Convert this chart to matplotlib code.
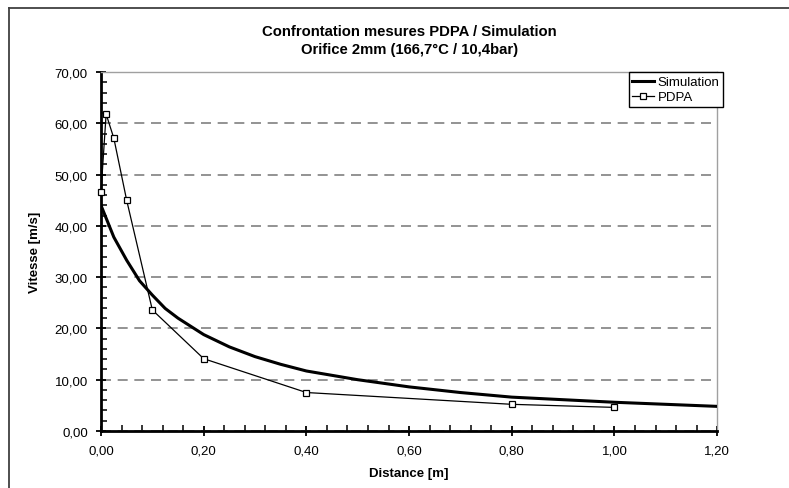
import matplotlib.pyplot as plt
from matplotlib.lines import Line2D
from matplotlib.ticker import MultipleLocator, FuncFormatter

# Simulation curve
sim_x = [0.0, 0.025, 0.05, 0.075, 0.1, 0.125, 0.15, 0.2, 0.25, 0.3, 0.35, 0.4,
         0.5, 0.6, 0.7, 0.8, 0.9, 1.0, 1.1, 1.2]
sim_y = [44.0, 37.8, 33.3, 29.3, 26.5, 23.9, 22.0, 18.8, 16.4, 14.5, 13.0, 11.7,
         10.0, 8.6, 7.5, 6.6, 6.1, 5.6, 5.2, 4.8]

# PDPA measurements
pdpa_x = [0.0, 0.01, 0.025, 0.05, 0.1, 0.2, 0.4, 0.8, 1.0]
pdpa_y = [46.6, 61.8, 57.1, 45.0, 23.6, 14.1, 7.5, 5.2, 4.6]

plt.rcParams['font.family'] = ['Liberation Sans', 'DejaVu Sans']

fig = plt.figure(figsize=(7.89, 4.89), dpi=100)
ax = fig.add_axes([0.128, 0.1166, 0.781, 0.734])

# outer chart frame: only left and top edges are visible in the reference
fx, fy = 8.5 / 789, 1 - 8.5 / 489
fig.lines.append(Line2D([fx, fx], [0, fy], transform=fig.transFigure,
                        color='#404040', linewidth=1.3))
fig.lines.append(Line2D([fx, 1], [fy, fy], transform=fig.transFigure,
                        color='#404040', linewidth=1.3))

ax.plot(sim_x, sim_y, color='black', linewidth=2.2, label='Simulation', zorder=3)
ax.plot(pdpa_x, pdpa_y, color='black', linewidth=0.9, marker='s', markersize=4.5,
        markerfacecolor='white', markeredgecolor='black', markeredgewidth=0.9,
        label='PDPA', zorder=4, clip_on=False)

ax.set_xlim(0, 1.2)
ax.set_ylim(0, 70)
ax.xaxis.set_major_locator(MultipleLocator(0.2))
ax.xaxis.set_minor_locator(MultipleLocator(0.04))
ax.yaxis.set_major_locator(MultipleLocator(10))
ax.yaxis.set_minor_locator(MultipleLocator(2))
comma = FuncFormatter(lambda v, p: f'{v:.2f}'.replace('.', ','))
ax.xaxis.set_major_formatter(comma)
ax.yaxis.set_major_formatter(comma)

ax.tick_params(which='major', direction='inout', length=7, width=1.3, labelsize=9.5, pad=6)
ax.tick_params(which='minor', direction='in', length=4, width=1.1)

ax.grid(axis='y', which='major', linestyle=(0, (6, 4)), color='#808080', linewidth=1.2)
ax.set_axisbelow(True)

for s in ['left', 'bottom']:
    ax.spines[s].set_linewidth(2)
    ax.spines[s].set_color('black')
for s in ['top', 'right']:
    ax.spines[s].set_linewidth(1)
    ax.spines[s].set_color('#a0a0a0')

ax.set_xlabel('Distance [m]', fontsize=9.5, fontweight='bold', labelpad=8)
ax.set_ylabel('Vitesse [m/s]', fontsize=9.5, fontweight='bold', labelpad=10)
ax.set_title('Confrontation mesures PDPA / Simulation\nOrifice 2mm (166,7°C / 10,4bar)',
             fontsize=10.7, fontweight='bold', pad=14, linespacing=1.3)

leg = ax.legend(loc='upper right', bbox_to_anchor=(1.01, 1.0), fontsize=9.5,
                frameon=True, fancybox=False, edgecolor='black', borderpad=0.3,
                handlelength=1.6, handletextpad=0.3, labelspacing=0.2, borderaxespad=0)
leg.get_frame().set_linewidth(1)
leg.get_frame().set_alpha(1)

plt.savefig('out.png', dpi=100)
